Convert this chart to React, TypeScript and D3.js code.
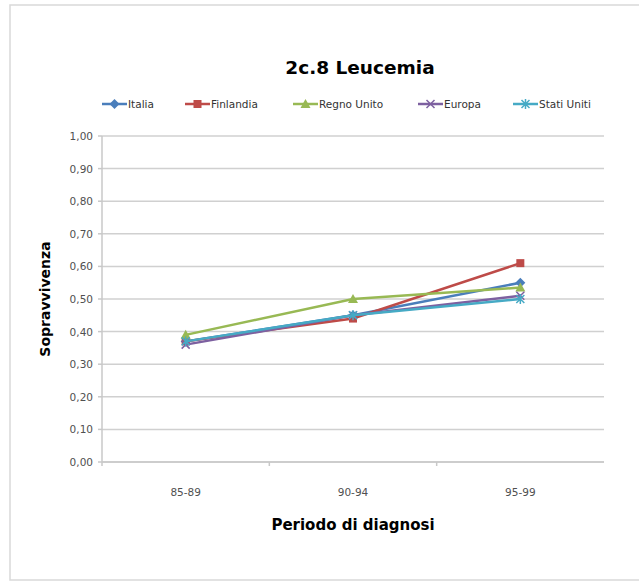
import React from "react";
import * as d3 from "d3";

const categories = ["85-89", "90-94", "95-99"];
const seriesNames = ["Italia", "Finlandia", "Regno Unito", "Europa", "Stati Uniti"];
const italia = [0.37, 0.45, 0.55];
const finlandia = [0.37, 0.44, 0.61];
const regnoUnito = [0.39, 0.5, 0.535];
const europa = [0.36, 0.45, 0.51];
const statiUniti = [0.37, 0.45, 0.5];
const yTicks = [0, 0.1, 0.2, 0.3, 0.4, 0.5, 0.6, 0.7, 0.8, 0.9, 1.0];

const seriesValues = [italia, finlandia, regnoUnito, europa, statiUniti];
const colors = ["#4a7ebb", "#be4b48", "#98b954", "#7d60a0", "#46aac5"];
const markers = ["diamond", "square", "triangle", "x", "star"];
const legendX = [102, 185, 293, 418, 513];

const FONT = "'DejaVu Sans', Verdana, sans-serif";

function Marker({ type, x, y, color }: { type: string; x: number; y: number; color: string }) {
  const s = 4;
  if (type === "diamond")
    return <path d={`M${x},${y - s - 1}L${x + s + 1},${y}L${x},${y + s + 1}L${x - s - 1},${y}Z`} fill={color} />;
  if (type === "square") return <rect x={x - s} y={y - s} width={2 * s} height={2 * s} fill={color} />;
  if (type === "triangle")
    return <path d={`M${x},${y - s - 1}L${x + s + 1},${y + s}L${x - s - 1},${y + s}Z`} fill={color} />;
  if (type === "x")
    return (
      <path
        d={`M${x - s},${y - s}L${x + s},${y + s}M${x - s},${y + s}L${x + s},${y - s}`}
        stroke={color}
        strokeWidth={1.5}
      />
    );
  return (
    <path
      d={`M${x - s},${y - s}L${x + s},${y + s}M${x - s},${y + s}L${x + s},${y - s}M${x},${y - s - 1}L${x},${y + s + 1}`}
      stroke={color}
      strokeWidth={1.5}
    />
  );
}

export default function App() {
  const W = 639;
  const H = 583;
  const left = 102;
  const right = 604;
  const top = 136;
  const bottom = 462;

  const x = d3.scaleBand<string>().domain(categories).range([left, right]);
  const y = d3.scaleLinear().domain([0, 1]).range([bottom, top]);
  const cx = (c: string) => (x(c) as number) + x.bandwidth() / 2;
  const line = d3
    .line<number>()
    .x((_, i) => cx(categories[i]))
    .y((d) => y(d));

  const fmt = (v: number) => v.toFixed(2).replace(".", ",");

  return (
    <svg
      width={W}
      height={H}
      style={{ position: "absolute", left: 0, top: 0, background: "#fff" }}
      fontFamily={FONT}
    >
      <rect x={10} y={5} width={640} height={575} fill="#fff" stroke="#d9d9d9" strokeWidth={1.5} />
      <text x={360} y={74} textAnchor="middle" fontSize={18.5} fontWeight="bold" fill="#000">
        2c.8 Leucemia
      </text>

      {seriesNames.map((n, i) => (
        <g key={n}>
          <line x1={legendX[i]} x2={legendX[i] + 25} y1={104} y2={104} stroke={colors[i]} strokeWidth={2.5} />
          <Marker type={markers[i]} x={legendX[i] + 12.5} y={104} color={colors[i]} />
          <text x={legendX[i] + 26} y={108} fontSize={10.5} fill="#333">
            {n}
          </text>
        </g>
      ))}

      {yTicks.map((t) => (
        <g key={t}>
          <line x1={left} x2={right} y1={y(t)} y2={y(t)} stroke="#d0d0d0" strokeWidth={1.5} />
          <line x1={left - 4} x2={left} y1={y(t)} y2={y(t)} stroke="#c8c8c8" strokeWidth={1.5} />
          <text x={93} y={y(t) + 4} textAnchor="end" fontSize={10.5} fill="#505050">
            {fmt(t)}
          </text>
        </g>
      ))}
      <line x1={left} x2={left} y1={top} y2={bottom + 4} stroke="#c8c8c8" strokeWidth={1.5} />
      <line x1={left} x2={right} y1={bottom} y2={bottom} stroke="#c8c8c8" strokeWidth={1.5} />
      {categories.map((c, i) => (
        <g key={c}>
          {i > 0 && (
            <line
              x1={x(c) as number}
              x2={x(c) as number}
              y1={bottom}
              y2={bottom + 4}
              stroke="#c8c8c8"
              strokeWidth={1.5}
            />
          )}
          <text x={cx(c)} y={496} textAnchor="middle" fontSize={10.5} fill="#505050">
            {c}
          </text>
        </g>
      ))}

      {seriesValues.map((vals, i) => (
        <g key={seriesNames[i]}>
          <path d={line(vals) || ""} fill="none" stroke={colors[i]} strokeWidth={2.5} />
          {vals.map((v, j) => (
            <Marker key={j} type={markers[i]} x={cx(categories[j])} y={y(v)} color={colors[i]} />
          ))}
        </g>
      ))}

      <text
        transform={`translate(50,${(top + bottom) / 2}) rotate(-90)`}
        textAnchor="middle"
        fontSize={14}
        fontWeight="bold"
        fill="#000"
      >
        Sopravvivenza
      </text>
      <text x={cx(categories[1])} y={530} textAnchor="middle" fontSize={15} fontWeight="bold" fill="#000">
        Periodo di diagnosi
      </text>
    </svg>
  );
}
